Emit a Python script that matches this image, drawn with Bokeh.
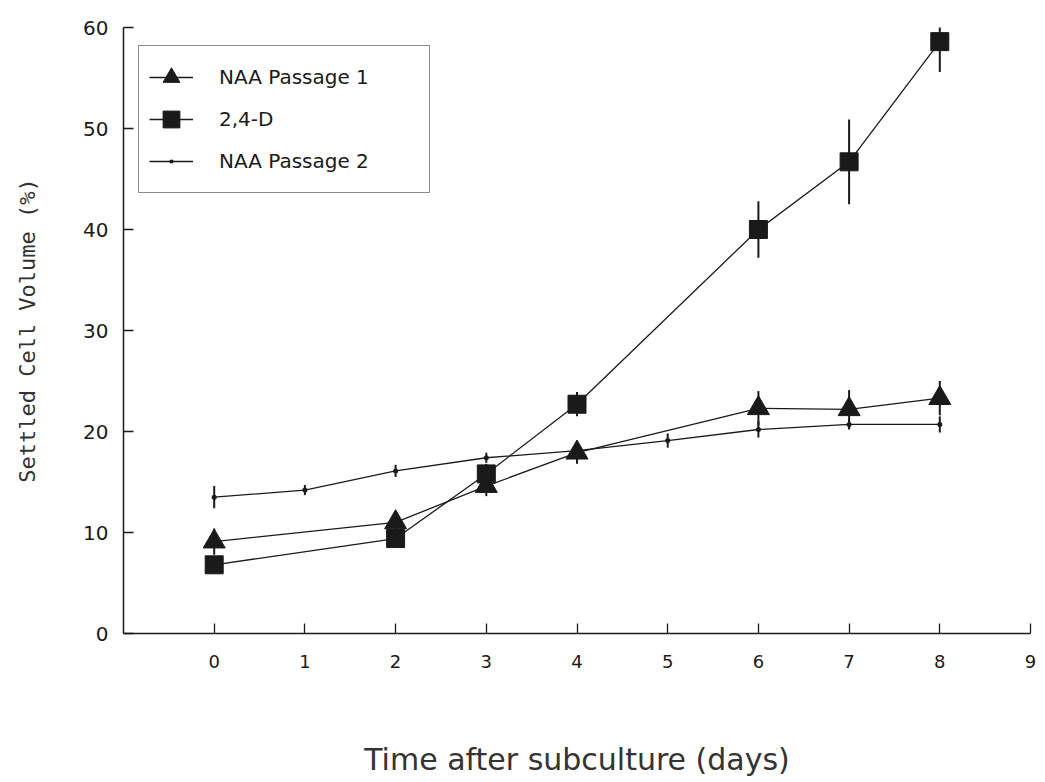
from bokeh.plotting import figure
from bokeh.models import FixedTicker, Range1d, Legend, LegendItem
from bokeh.embed import file_html
from bokeh.resources import INLINE

# Data
days_naa1 = [0, 2, 3, 4, 6, 7, 8]
naa1 = [9.1, 11.0, 14.6, 17.9, 22.3, 22.2, 23.3]
naa1_err = [1.3, 1.0, 1.0, 1.1, 1.7, 1.9, 1.7]

days_24d = [0, 2, 3, 4, 6, 7, 8]
d24 = [6.8, 9.4, 15.8, 22.7, 40.0, 46.7, 58.6]
d24_err = [0.5, 0.8, 1.0, 1.2, 2.8, 4.2, 3.0]

days_naa2 = [0, 1, 2, 3, 4, 5, 6, 7, 8]
naa2 = [13.5, 14.2, 16.1, 17.4, 18.1, 19.1, 20.2, 20.7, 20.7]
naa2_err = [1.1, 0.5, 0.6, 0.5, 0.5, 0.7, 0.8, 0.5, 0.8]

x_ticks = [0, 1, 2, 3, 4, 5, 6, 7, 8, 9]
y_ticks = [0, 10, 20, 30, 40, 50, 60]

INK = "#1a1a1a"

p = figure(width=1040, height=782, output_backend="svg", toolbar_location=None,
           x_range=Range1d(-1, 9), y_range=Range1d(0, 60),
           min_border_left=123, min_border_top=27, min_border_right=10, min_border_bottom=149)
p.outline_line_color = None
p.xgrid.visible = False
p.ygrid.visible = False
p.background_fill_color = "white"

# error bars
p.segment(x0=days_naa1, y0=[v - e for v, e in zip(naa1, naa1_err)],
          x1=days_naa1, y1=[v + e for v, e in zip(naa1, naa1_err)], line_color=INK, line_width=2)
p.segment(x0=days_24d, y0=[v - e for v, e in zip(d24, d24_err)],
          x1=days_24d, y1=[v + e for v, e in zip(d24, d24_err)], line_color=INK, line_width=2)
p.segment(x0=days_naa2, y0=[v - e for v, e in zip(naa2, naa2_err)],
          x1=days_naa2, y1=[v + e for v, e in zip(naa2, naa2_err)], line_color=INK, line_width=2)

# series
l1 = p.line(days_naa1, naa1, line_color=INK, line_width=1.3)
m1 = p.scatter(days_naa1, naa1, marker="triangle", size=22, fill_color=INK, line_color=INK)
l2 = p.line(days_24d, d24, line_color=INK, line_width=1.3)
m2 = p.scatter(days_24d, d24, marker="square", size=18, fill_color=INK, line_color=INK)
l3 = p.line(days_naa2, naa2, line_color=INK, line_width=1.3)
m3 = p.scatter(days_naa2, naa2, marker="dot", size=20, fill_color=INK, line_color=INK)

# axes
p.xaxis.ticker = FixedTicker(ticks=x_ticks)
p.yaxis.ticker = FixedTicker(ticks=y_ticks)
for ax in (p.xaxis, p.yaxis):
    ax.axis_line_color = INK
    ax.axis_line_width = 1.5
    ax.major_tick_line_color = INK
    ax.major_tick_line_width = 1.3
    ax.major_tick_in = 10
    ax.major_tick_out = 0
    ax.minor_tick_line_color = None
    ax.major_label_text_font = "DejaVu Sans"
    ax.major_label_text_color = INK
    ax.axis_label_text_font_style = "normal"
    ax.axis_label_text_color = "#333333"

p.xaxis.major_label_text_font_size = "18px"
p.yaxis.major_label_text_font_size = "20px"

p.xaxis.axis_label = "Time after subculture (days)"
p.xaxis.axis_label_text_font = "DejaVu Sans"
p.xaxis.axis_label_text_font_size = "30px"
p.xaxis.major_label_standoff = 21
p.xaxis.axis_label_standoff = 71

p.yaxis.axis_label = "Settled Cell Volume (%)"
p.yaxis.axis_label_text_font = "DejaVu Sans Mono"
p.yaxis.axis_label_text_font_size = "22px"
p.yaxis.major_label_standoff = 15
p.yaxis.axis_label_standoff = 40

# legend
lg = Legend(items=[
    LegendItem(label="NAA Passage 1", renderers=[l1, m1]),
    LegendItem(label="2,4-D", renderers=[l2, m2]),
    LegendItem(label="NAA Passage 2", renderers=[l3, m3]),
])
lg.location = (15, 440)
lg.margin = 0
lg.padding = 10
lg.spacing = 0
lg.glyph_width = 44
lg.glyph_height = 42
lg.label_height = 42
lg.label_width = 200
lg.label_standoff = 26
lg.label_text_font = "DejaVu Sans"
lg.label_text_font_size = "20px"
lg.label_text_color = INK
lg.border_line_color = INK
lg.border_line_width = 1.5
lg.background_fill_color = "white"
lg.background_fill_alpha = 1
p.add_layout(lg, "center")

open("out.html", "w").write(file_html(p, INLINE))
